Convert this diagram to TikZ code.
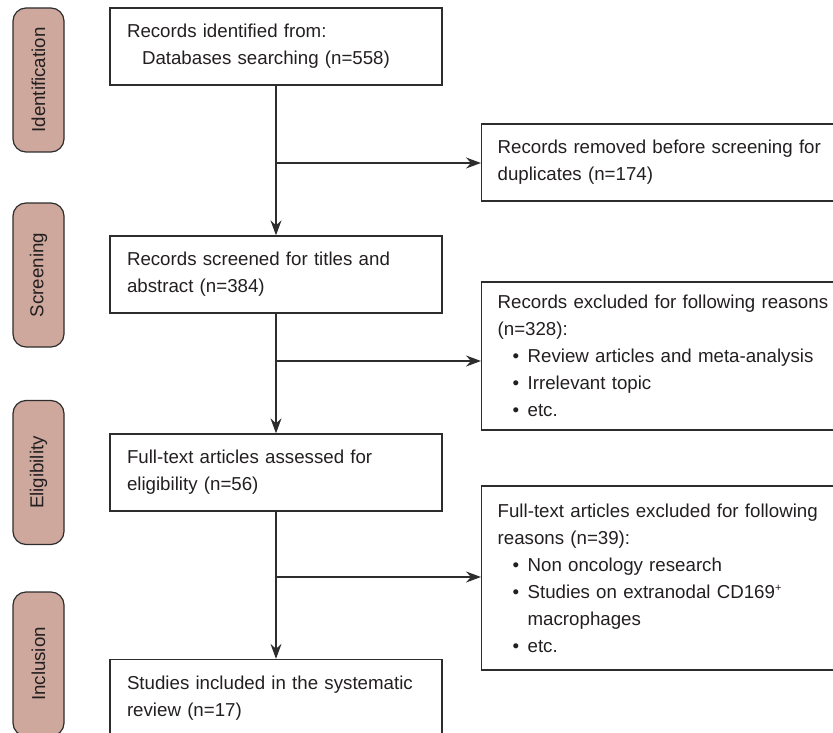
\documentclass[tikz,border=0pt]{standalone}
\usepackage{fontspec}
\setmainfont{Liberation Sans}
\usetikzlibrary{arrows.meta}
\definecolor{pillfill}{RGB}{206,168,156}
\definecolor{edge}{RGB}{45,45,45}
\definecolor{ink}{RGB}{35,31,32}
\newcommand{\bul}{\hspace*{15pt}\makebox[15pt][l]{•}}
\begin{document}
\begin{tikzpicture}[x=1pt,y=-1pt,
  font=\fontsize{18.7}{27}\selectfont, text=ink,
  mainbox/.style={draw=edge, line width=1.3pt, rectangle, align=left,
    inner xsep=17pt, inner ysep=0pt, text width=298pt, minimum height=77pt},
  sidebox/.style={draw=edge, line width=1.3pt, rectangle, align=left, anchor=west,
    inner xsep=16pt, inner ysep=0pt, text width=345pt},
  pill/.style={draw=edge, line width=1.2pt, fill=pillfill, rectangle,
    rounded corners=13pt, minimum width=144pt, minimum height=51pt, inner sep=0pt},
  conn/.style={draw=edge, line width=1.3pt},
  arr/.style={conn, -{Stealth[length=15pt,width=11pt,inset=5pt]}}]
\useasboundingbox (0,0) rectangle (833,733);
\clip (0,0) rectangle (833,733);
% phase labels
\node[pill, rotate=90] (p1) at (38.5,80) {Identification};
\node[pill, rotate=90] (p2) at (38.5,275) {Screening};
\node[pill, rotate=90] (p3) at (38.5,472.5) {Eligibility};
\node[pill, rotate=90] (p4) at (38.5,664) {Inclusion};
% main boxes
\node[mainbox] (b1) at (276,46.5) {Records identified from:\\\hspace*{15pt}Databases searching (n=558)};
\node[mainbox] (b2) at (276,274.5) {Records screened for titles and\\abstract (n=384)};
\node[mainbox] (b3) at (276,472.5) {Full-text articles assessed for\\eligibility (n=56)};
\node[mainbox] (b4) at (276,698) {Studies included in the systematic\\review (n=17)};
% side boxes
\node[sidebox, minimum height=77pt] (r1) at (481,162.5) {Records removed before screening for\\duplicates (n=174)};
\node[sidebox, minimum height=148pt] (r2) at (481,356) {Records excluded for following reasons\\(n=328):\\\bul Review articles and meta-analysis\\\bul Irrelevant topic\\\bul etc.};
\node[sidebox, minimum height=184pt] (r3) at (481,578) {Full-text articles excluded for following\\reasons (n=39):\\\bul Non oncology research\\\bul Studies on extranodal CD169\textsuperscript{\fontsize{11}{11}\selectfont +}\\\hspace*{30pt}macrophages\\\bul etc.};
% junctions
\coordinate (j1) at (276,163);
\coordinate (j2) at (276,361);
\coordinate (j3) at (276,577);
% connectors
\draw[arr] (b1.south) -- (b2.north);
\draw[arr] (b2.south) -- (b3.north);
\draw[arr] (b3.south) -- (b4.north);
\draw[arr] (j1) -- (j1 -| r1.west);
\draw[arr] (j2) -- (j2 -| r2.west);
\draw[arr] (j3) -- (j3 -| r3.west);
\end{tikzpicture}
\end{document}
